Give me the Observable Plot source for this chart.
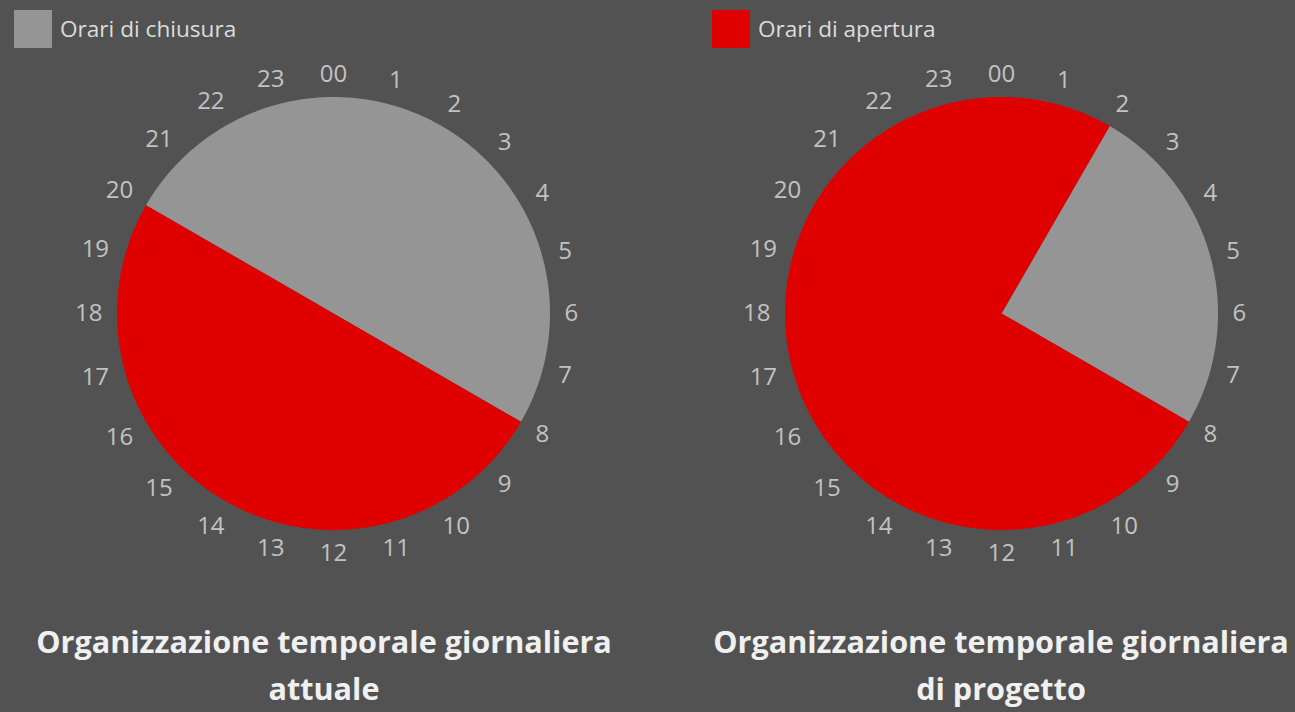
<!DOCTYPE html>
<html>
<head>
<meta charset="utf-8">
<script src="https://cdn.jsdelivr.net/npm/d3@7"></script>
<script src="https://cdn.jsdelivr.net/npm/@observablehq/plot@0.6"></script>
<style>
  html, body { margin: 0; padding: 0; background: #525252; }
  #page { position: relative; width: 1295px; height: 712px; overflow: hidden; background: #525252; font-family: "Open Sans", sans-serif; }
  .legend { position: absolute; top: 10px; height: 38px; display: flex; align-items: center; }
  .legend .sw { width: 38px; height: 38px; }
  .legend .lab { margin-left: 8px; font-size: 22.6px; line-height: 38px; color: #dcdcdc; white-space: nowrap; }
  .title { position: absolute; top: 618px; text-align: center; font-weight: bold; font-size: 30.6px; line-height: 47px; color: #f0f0f0; white-space: nowrap; }
  .chart { position: absolute; top: 33px; }
</style>
</head>
<body>
<div id="page"></div>
<script>
// ---- data ----
const hourLabels = ["00","1","2","3","4","5","6","7","8","9","10","11","12","13","14","15","16","17","18","19","20","21","22","23"];
const stati = ["Orari di chiusura", "Orari di apertura"];
const coloriStati = ["#959595", "#df0000"];
// attuale: closed 20 -> 8, open 8 -> 20
const attualeInizio = [20, 8];
const attualeFine = [8, 20];
// di progetto: closed 2 -> 8, open 8 -> 2
const progettoInizio = [2, 8];
const progettoFine = [8, 2];
const titoli = [["Organizzazione temporale giornaliera", "attuale"], ["Organizzazione temporale giornaliera", "di progetto"]];

// ---- geometry helpers ----
const R_PX = 216.5;          // pie radius in pixels
const SIZE = 560;            // svg size
const half = SIZE / 2 / R_PX; // domain half-extent in radius units

function polar(h, r) {
  const a = h / 24 * 2 * Math.PI; // clockwise from top
  return {x: r * Math.sin(a), y: r * Math.cos(a)};
}

function sliceRows(inizio, fine) {
  const rows = [];
  stati.forEach((s, i) => {
    const a0 = inizio[i];
    let a1 = fine[i];
    if (a1 <= a0) a1 += 24;
    rows.push({stato: s, x: 0, y: 0});
    const n = Math.ceil((a1 - a0) / 0.04);
    for (let k = 0; k <= n; k++) {
      const h = a0 + (a1 - a0) * k / n;
      rows.push({stato: s, ...polar(h, 1)});
    }
    rows.push({stato: s, x: 0, y: 0});
  });
  return rows;
}

function labelRows() {
  const edge = 231; // px: inner edge of labels
  return hourLabels.map((t, i) => {
    const a = i / 24 * 2 * Math.PI;
    const hw = t.length * 6.9;
    const hh = 8.5;
    const r = (edge + Math.abs(Math.sin(a)) * hw + Math.abs(Math.cos(a)) * hh) / R_PX;
    return {text: t, ...polar(i, r)};
  });
}

function pie(inizio, fine) {
  return Plot.plot({
    width: SIZE,
    height: SIZE,
    margin: 0,
    x: {domain: [-half, half], axis: null},
    y: {domain: [-half, half], axis: null},
    color: {domain: stati, range: coloriStati},
    style: {background: "transparent", overflow: "visible"},
    marks: [
      Plot.line(sliceRows(inizio, fine), {x: "x", y: "y", z: "stato", fill: "stato", stroke: "none", curve: "linear"}),
      Plot.text(labelRows(), {x: "x", y: "y", text: "text", fill: "#c2c2c2", fontSize: 24, fontFamily: "Open Sans"})
    ]
  });
}

// ---- layout ----
const page = document.getElementById("page");

function addLegend(left, idx) {
  const d = document.createElement("div");
  d.className = "legend";
  d.style.left = left + "px";
  d.innerHTML = `<div class="sw" style="background:${coloriStati[idx]}"></div><div class="lab">${stati[idx]}</div>`;
  page.appendChild(d);
}
function addChart(cx, inizio, fine) {
  const svg = pie(inizio, fine);
  svg.classList.add("chart");
  svg.style.left = (cx - SIZE / 2) + "px";
  svg.style.position = "absolute";
  svg.style.top = (313 - SIZE / 2) + "px";
  page.appendChild(svg);
}
function addTitle(cx, lines) {
  const d = document.createElement("div");
  d.className = "title";
  d.style.left = (cx - 290) + "px";
  d.style.width = "580px";
  d.innerHTML = lines.join("<br>");
  page.appendChild(d);
}

addLegend(14, 0);
addLegend(712, 1);
addChart(332.5, attualeInizio, attualeFine);
addChart(1001, progettoInizio, progettoFine);
addTitle(324, titoli[0]);
addTitle(1001, titoli[1]);
</script>
</body>
</html>
